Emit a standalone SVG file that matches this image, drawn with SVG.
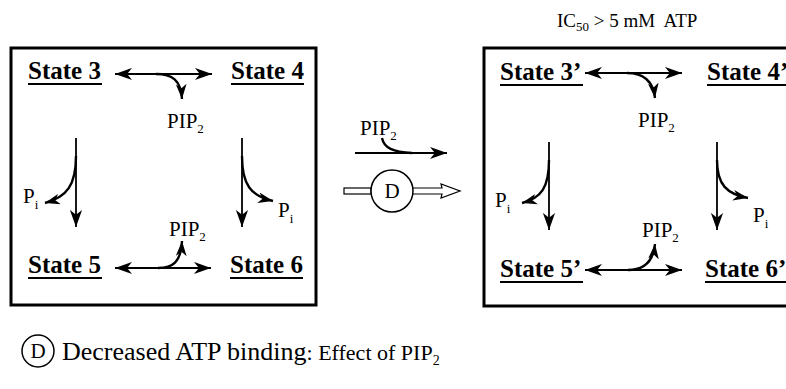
<svg xmlns="http://www.w3.org/2000/svg" width="786" height="389" viewBox="0 0 786 389">
<defs>
<style>
.st{font-family:"Liberation Serif","Times New Roman",serif;font-weight:bold;font-size:25px;fill:#000}
.lb{font-family:"Liberation Serif","Times New Roman",serif;font-size:21px;fill:#000}
.sub{font-size:13px}
.ul{stroke:#000;stroke-width:2.2}
.box{fill:none;stroke:#000;stroke-width:3}
.ln{fill:none;stroke:#000;stroke-width:1.8}
.cv{fill:none;stroke:#000;stroke-width:2.4}
</style>
<marker id="ah" viewBox="0 0 14 10" refX="14" refY="5" markerWidth="17" markerHeight="13" markerUnits="userSpaceOnUse" orient="auto-start-reverse">
<path d="M0,0 L14,5 L0,10 L4,5 Z" fill="#000"/>
</marker>
<marker id="ahs" viewBox="0 0 14 10" refX="14" refY="5" markerWidth="15" markerHeight="11" markerUnits="userSpaceOnUse" orient="auto">
<path d="M0,0 L14,5 L0,10 L4,5 Z" fill="#000"/>
</marker>
</defs>
<rect width="786" height="389" fill="#fff"/>

<g id="left-box">
<rect class="box" x="11" y="48" width="305" height="257"/>
</g>
<g id="right-box">
<rect class="box" x="484" y="48" width="320" height="258"/>
</g>

<g id="state3"><text class="st" x="28" y="79">State 3</text><line class="ul" x1="28" y1="84" x2="102" y2="84"/></g>
<g id="state4"><text class="st" x="231" y="79">State 4</text><line class="ul" x1="231" y1="84" x2="304" y2="84"/></g>
<g id="state5"><text class="st" x="28" y="273">State 5</text><line class="ul" x1="28" y1="278" x2="102" y2="278"/></g>
<g id="state6"><text class="st" x="230" y="273">State 6</text><line class="ul" x1="230" y1="278" x2="303" y2="278"/></g>

<g id="state3p"><text class="st" x="500" y="80">State 3’</text><line class="ul" x1="500" y1="85" x2="583" y2="85"/></g>
<g id="state4p"><text class="st" x="707" y="80">State 4’</text><line class="ul" x1="707" y1="85" x2="786" y2="85"/></g>
<g id="state5p"><text class="st" x="500" y="277">State 5’</text><line class="ul" x1="500" y1="282" x2="583" y2="282"/></g>
<g id="state6p"><text class="st" x="705" y="277">State 6’</text><line class="ul" x1="705" y1="282" x2="786" y2="282"/></g>

<g id="labels">
<text class="lb" x="167" y="128">PIP<tspan class="sub" dy="5">2</tspan></text>
<text class="lb" x="169" y="236">PIP<tspan class="sub" dy="5">2</tspan></text>
<text class="lb" x="23" y="203">P<tspan class="sub" dy="6">i</tspan></text>
<text class="lb" x="278" y="217">P<tspan class="sub" dy="6">i</tspan></text>
<text class="lb" x="638" y="127">PIP<tspan class="sub" dy="5">2</tspan></text>
<text class="lb" x="642" y="237">PIP<tspan class="sub" dy="5">2</tspan></text>
<text class="lb" x="495" y="207">P<tspan class="sub" dy="6">i</tspan></text>
<text class="lb" x="753" y="222">P<tspan class="sub" dy="6">i</tspan></text>
<text class="lb" x="360" y="135">PIP<tspan class="sub" dy="5">2</tspan></text>
<text class="lb" x="557" y="27" style="font-size:19px" xml:space="preserve">IC<tspan class="sub" dy="4">50</tspan><tspan dy="-4"> &gt; 5 mM  ATP</tspan></text>
</g>

<g id="connectors">
<line class="ln" x1="115" y1="74" x2="212" y2="74" marker-start="url(#ah)" marker-end="url(#ah)"/>
<path class="cv" d="M156,74 C172,74 181,80 182,99" marker-end="url(#ahs)"/>
<line class="ln" x1="115" y1="268" x2="211" y2="268" marker-start="url(#ah)" marker-end="url(#ah)"/>
<path class="cv" d="M158,268 C173,268 181,262 182,241" marker-end="url(#ahs)"/>
<line class="ln" x1="76" y1="138" x2="76" y2="227" marker-end="url(#ah)"/>
<path class="cv" d="M76,156 C76,185 67,197 45,203" marker-end="url(#ahs)"/>
<line class="ln" x1="242" y1="138" x2="242" y2="227" marker-end="url(#ah)"/>
<path class="cv" d="M242,156 C242,185 251,196 273,201" marker-end="url(#ahs)"/>

<line class="ln" x1="585" y1="73" x2="682" y2="73" marker-start="url(#ah)" marker-end="url(#ah)"/>
<path class="cv" d="M627,73 C643,73 653,80 655,98" marker-end="url(#ahs)"/>
<line class="ln" x1="585" y1="270" x2="682" y2="270" marker-start="url(#ah)" marker-end="url(#ah)"/>
<path class="cv" d="M628,270 C642,270 653,264 655,244" marker-end="url(#ahs)"/>
<line class="ln" x1="549" y1="142" x2="549" y2="230" marker-end="url(#ah)"/>
<path class="cv" d="M549,160 C549,188 541,198 522,203" marker-end="url(#ahs)"/>
<line class="ln" x1="717" y1="142" x2="717" y2="230" marker-end="url(#ah)"/>
<path class="cv" d="M717,160 C717,185 727,194 748,198" marker-end="url(#ahs)"/>

<line class="ln" x1="355" y1="153" x2="447" y2="153" marker-end="url(#ah)"/>
<path class="cv" d="M382,138 C384,148 393,152 412,153"/>
<rect x="344" y="188" width="27" height="6" fill="#fff" stroke="#000" stroke-width="1.2"/>
<path d="M413,188 L442,188 L441,184 L460,191 L441,198 L442,194 L413,194" fill="#fff" stroke="#000" stroke-width="1.2"/>
</g>

<g id="D-mid">
<circle cx="392" cy="191" r="21" fill="#fff" stroke="#000" stroke-width="1.5"/>
<text class="lb" x="392" y="198" text-anchor="middle">D</text>
</g>

<g id="legend">
<circle cx="38" cy="351" r="16" fill="#fff" stroke="#000" stroke-width="1.5"/>
<text class="lb" x="38" y="358" text-anchor="middle">D</text>
<text font-family="Liberation Serif,Times New Roman,serif" font-size="26" x="62" y="360">Decreased ATP binding<tspan font-size="22">: Effect of PIP<tspan font-size="14" dy="5">2</tspan></tspan></text>
</g>
</svg>
